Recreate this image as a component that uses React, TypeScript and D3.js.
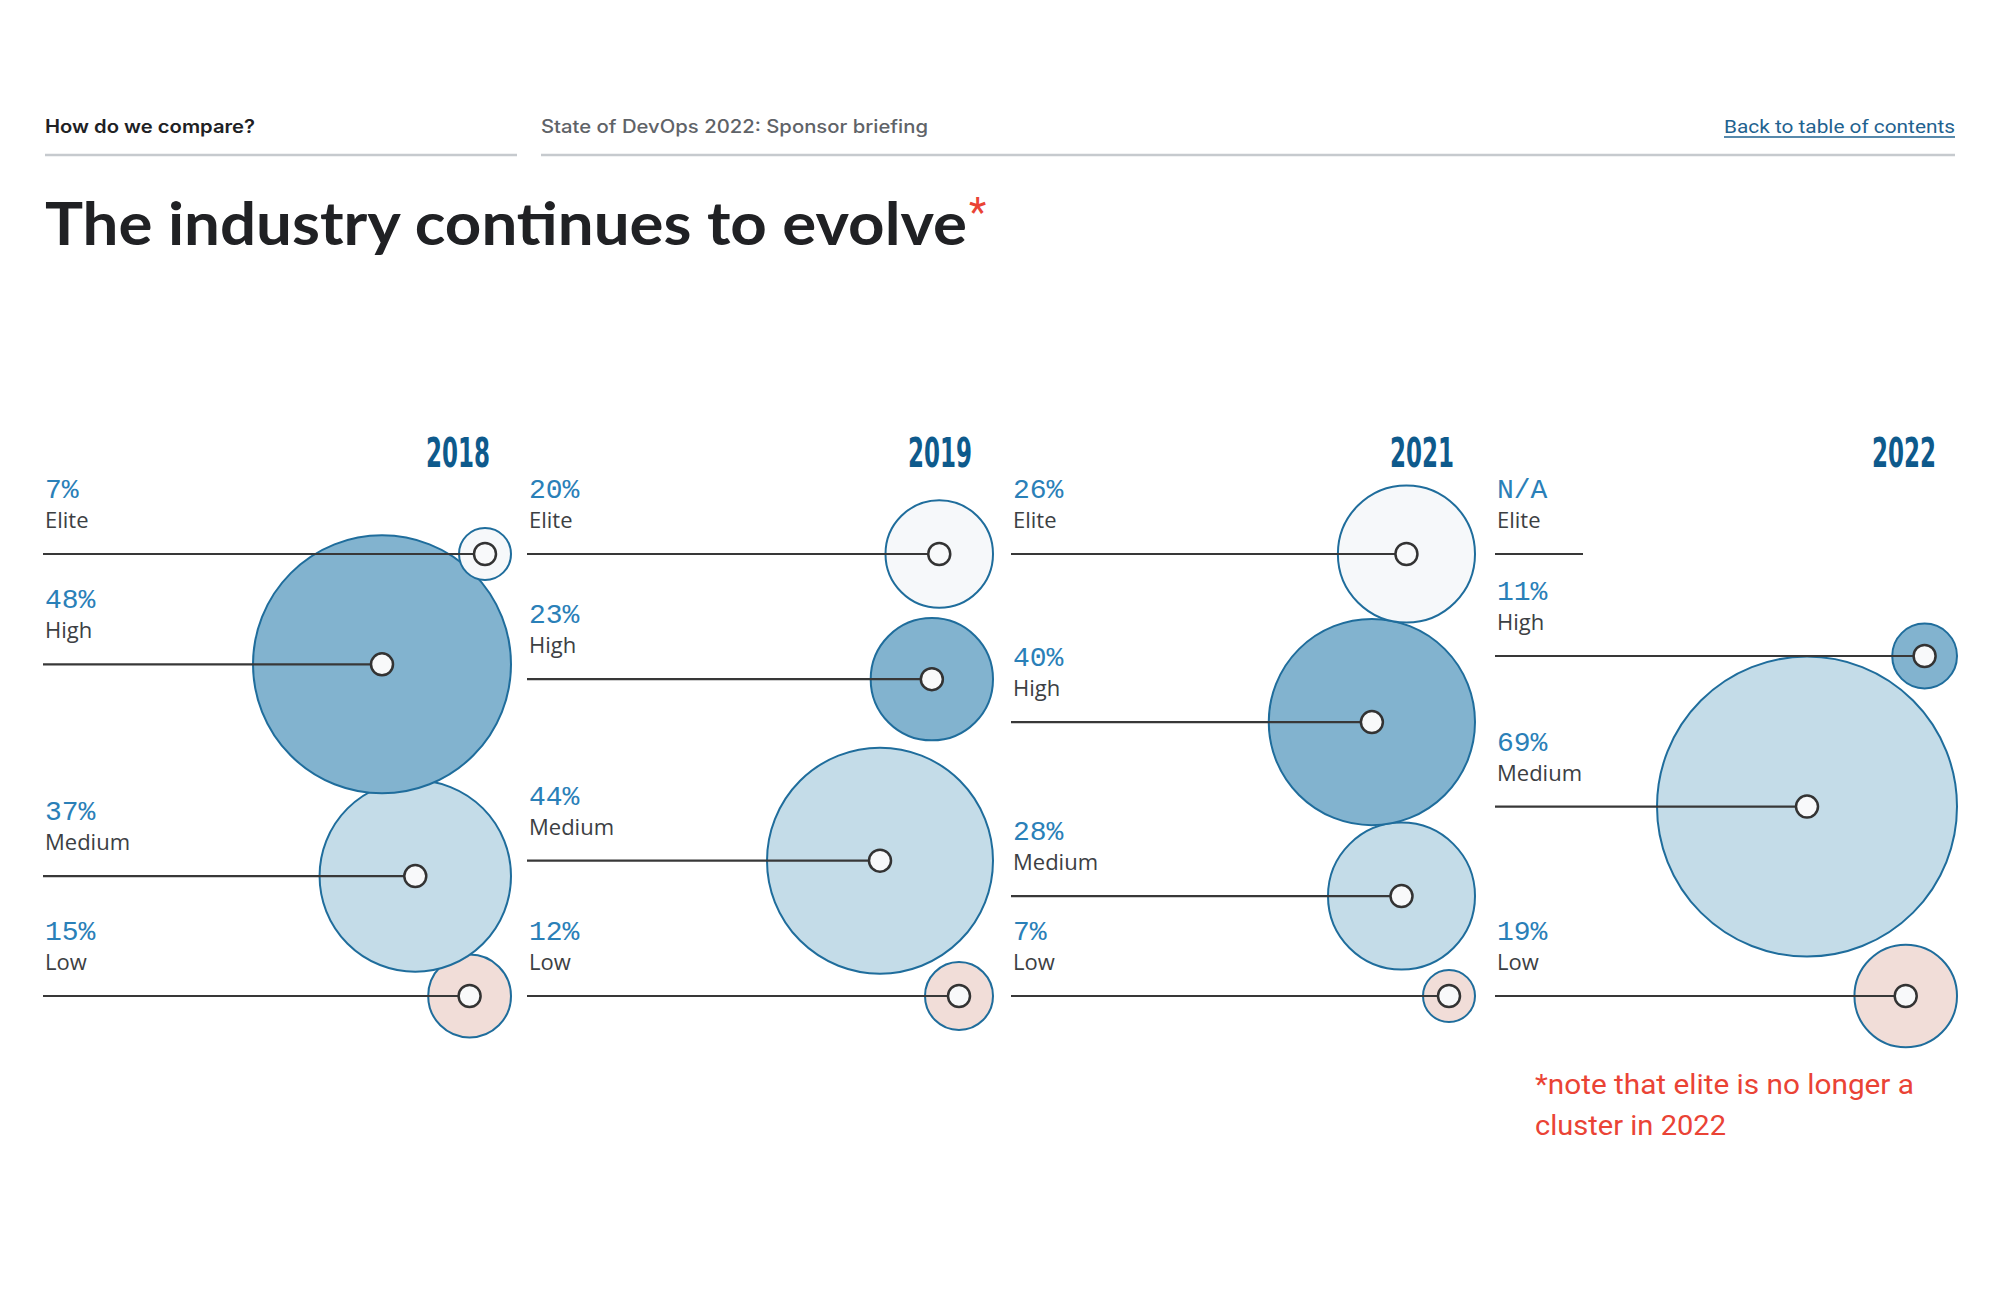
import React from 'react';
import * as d3 from 'd3';

// ---------- data ----------
const years = ['2018', '2019', '2021', '2022'];
const clusters = ['Elite', 'High', 'Medium', 'Low'];
const share2018: (number | null)[] = [7, 48, 37, 15];
const share2019: (number | null)[] = [20, 23, 44, 12];
const share2021: (number | null)[] = [26, 40, 28, 7];
const share2022: (number | null)[] = [null, 11, 69, 19];
const sharesByYear = [share2018, share2019, share2021, share2022];

const headerLeft = 'How do we compare?';
const headerMid = 'State of DevOps 2022: Sponsor briefing';
const headerLink = 'Back to table of contents';
const titleText = 'The industry continues to evolve';
const footnoteLines = ['*note that elite is no longer a', 'cluster in 2022'];

// ---------- styles ----------
const W = 2000;
const H = 1295;
const clusterFill: Record<string, string> = {
  Elite: '#f6f8fa',
  High: '#82b3cf',
  Medium: '#c4dce8',
  Low: '#f1ddd8',
};
const bubbleStroke = '#1f6d9c';
const pctColor = '#2a80b8';
const yearColor = '#0e5a8c';
const labelColor = '#3c4043';
const lineColor = '#383838';

export default function App() {
  const leftX = d3.scalePoint<string>().domain(years).range([45, 1497]);
  const rightX = d3.scalePoint<string>().domain(years).range([511, 1957]);
  const rScale = d3
    .scaleLinear()
    .domain([7, 12, 44, 48, 69])
    .range([26, 34, 113, 129, 150]);

  const topY = 554;
  const bottomY = 996;
  const naGap = 102;
  const minRowGap = 100;

  const columns = years.map((year, ci) => {
    const vals = sharesByYear[ci];
    const rows = clusters.map((c, i) => ({
      cluster: c,
      value: vals[i],
      r: vals[i] == null ? 0 : rScale(vals[i] as number),
      y: 0,
    }));
    let start = topY;
    let k = 0;
    while (k < rows.length && rows[k].value == null) {
      rows[k].y = start;
      start += naGap;
      k++;
    }
    const valid = rows.slice(k);
    const cum: number[] = [0];
    for (let i = 1; i < valid.length; i++) {
      // right-aligned circles touch when dy = 2*sqrt(r1*r2); keep room for labels
      const g = Math.max(minRowGap, 2 * Math.sqrt(valid[i - 1].r * valid[i].r));
      cum.push(cum[i - 1] + g);
    }
    const yS = d3
      .scaleLinear()
      .domain([0, cum[cum.length - 1]])
      .range([start, bottomY]);
    valid.forEach((row, i) => (row.y = yS(cum[i])));
    return { year, left: leftX(year) as number, right: rightX(year) as number, rows };
  });

  return (
    <svg
      width={W}
      height={H}
      viewBox={`0 0 ${W} ${H}`}
      style={{ position: 'absolute', left: 0, top: 0, background: '#ffffff' }}
    >
      <rect x={0} y={0} width={W} height={H} fill="#ffffff" />

      {/* header */}
      <text
        x={45}
        y={133}
        fontFamily="Inter, Roboto, sans-serif"
        fontWeight={600}
        fontSize={18}
        fill="#202124"
        textLength={210}
        lengthAdjust="spacingAndGlyphs"
      >
        {headerLeft}
      </text>
      <line x1={45} x2={517} y1={155} y2={155} stroke="#c6cace" strokeWidth={2.5} />
      <text
        x={541}
        y={133}
        fontFamily="Inter, Roboto, sans-serif"
        fontWeight={500}
        fontSize={18}
        fill="#5f6368"
        textLength={387}
        lengthAdjust="spacingAndGlyphs"
      >
        {headerMid}
      </text>
      <line x1={541} x2={1955} y1={155} y2={155} stroke="#c6cace" strokeWidth={2.5} />
      <text
        x={1955}
        y={133}
        textAnchor="end"
        fontFamily="Roboto, sans-serif"
        fontSize={19}
        fill="#1f628f"
        textLength={231}
        lengthAdjust="spacingAndGlyphs"
      >
        {headerLink}
      </text>
      <line x1={1724} x2={1955} y1={137} y2={137} stroke="#1f628f" strokeWidth={1.5} />

      {/* title */}
      <text
        x={45}
        y={245}
        fontFamily="Lato, Roboto, sans-serif"
        fontWeight={700}
        fontSize={60}
        fill="#202124"
        textLength={922}
        lengthAdjust="spacingAndGlyphs"
      >
        {titleText}
      </text>
      <text x={969} y={226} fontFamily="Roboto, sans-serif" fontSize={40} fill="#ea4335">
        *
      </text>

      {/* columns */}
      {columns.map((col) => (
        <g key={col.year}>
          <text
            x={col.right - 21}
            y={467}
            textAnchor="end"
            fontFamily="'Liberation Sans Narrow', 'DejaVu Sans Condensed', sans-serif"
            fontWeight={700}
            fontSize={41}
            fill={yearColor}
            textLength={64}
            lengthAdjust="spacingAndGlyphs"
          >
            {col.year}
          </text>

          {/* bubbles, bottom row first so upper bubbles sit on top */}
          {[...col.rows].reverse().map((row) =>
            row.value == null ? null : (
              <circle
                key={'b' + row.cluster}
                cx={col.right - row.r}
                cy={row.y}
                r={row.r}
                fill={clusterFill[row.cluster]}
                stroke={bubbleStroke}
                strokeWidth={2}
              />
            )
          )}

          {col.rows.map((row) => {
            const cx = row.value == null ? col.left + 86 : col.right - row.r;
            return (
              <g key={'r' + row.cluster}>
                <text
                  x={col.left}
                  y={row.y - 56}
                  fontFamily="'Liberation Mono', 'DejaVu Sans Mono', monospace"
                  fontSize={28}
                  fill={pctColor}
                >
                  {row.value == null ? 'N/A' : `${row.value}%`}
                </text>
                <text
                  x={col.left}
                  y={row.y - 26}
                  fontFamily="'Open Sans', Roboto, sans-serif"
                  fontSize={22}
                  fill={labelColor}
                >
                  {row.cluster}
                </text>
                <line
                  x1={col.left - 2}
                  x2={cx}
                  y1={row.y}
                  y2={row.y}
                  stroke={lineColor}
                  strokeWidth={2.2}
                />
                {row.value == null ? null : (
                  <circle
                    cx={cx}
                    cy={row.y}
                    r={11}
                    fill="#f8f9fa"
                    stroke="#333333"
                    strokeWidth={2.5}
                  />
                )}
              </g>
            );
          })}
        </g>
      ))}

      {/* footnote */}
      {footnoteLines.map((t, i) => (
        <text
          key={i}
          x={1535}
          y={1094 + i * 41}
          fontFamily="Roboto, sans-serif"
          fontSize={28}
          fill="#ea4335"
          textLength={i === 0 ? 379 : 191}
          lengthAdjust="spacingAndGlyphs"
        >
          {t}
        </text>
      ))}
    </svg>
  );
}
